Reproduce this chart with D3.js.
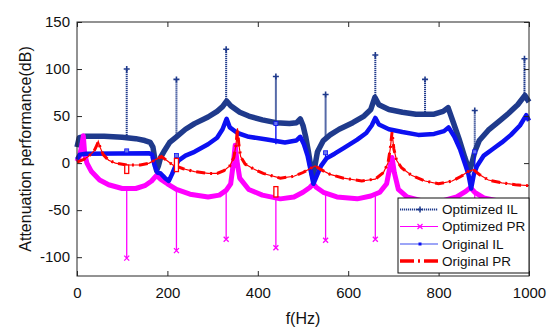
<!DOCTYPE html>
<html>
<head>
<meta charset="utf-8">
<script src="https://cdn.jsdelivr.net/npm/d3@7"></script>
<style>
  body { margin: 0; background: #fff; }
  svg { font-family: Arial, "Liberation Sans", sans-serif; }
</style>
</head>
<body>
<svg id="chart" width="550" height="335"></svg>
<script>
// axis ticks
var freqTicks = [0, 200, 400, 600, 800, 1000];
var dbTicks = [-100, -50, 0, 50, 100, 150];

// Optimized IL (base curve)
var optILFreq  = [0, 5, 20, 60, 100, 130, 150, 162, 168, 172, 176, 180, 185, 192, 205, 220, 240, 260, 290, 310, 322, 331, 340, 360, 380, 410, 440, 470, 486, 494, 500, 506, 512, 518, 522, 526, 532, 545, 560, 580, 610, 635, 650, 659, 668, 690, 720, 750, 790, 810, 821, 832, 845, 858, 868, 872, 880, 890, 910, 935, 955, 975, 991, 1000];
var optILValue = [17, 27, 28.5, 28.5, 27.5, 26, 24, 22, 17, 5, -8, -3, 6, 12, 22, 28, 36, 42, 49, 55, 60, 66, 61, 54, 50, 46, 43, 42, 43, 47, 40, 28, 12, -6, -15, -4, 12, 24, 30, 36, 43, 50, 57, 70, 62, 57, 54, 52, 52, 55, 59, 44, 26, 6, -8, -3, 12, 24, 35, 45, 53, 62, 72, 65];

// Optimized PR (base curve)
var optPRFreq  = [0, 6, 11, 14, 17, 22, 32, 50, 70, 100, 130, 150, 165, 176, 185, 200, 220, 250, 290, 315, 330, 340, 346, 350, 354, 360, 380, 410, 450, 480, 500, 515, 523, 530, 545, 575, 620, 650, 670, 685, 692, 697, 702, 711, 730, 770, 810, 840, 860, 870, 880, 900, 940, 1000];
var optPRValue = [2, 8, 20, 29, 10, 0, -9, -18, -23, -27, -27, -24, -19, -13, -17, -22, -28, -33, -36, -34, -29, -22, 0, 19, 2, -16, -28, -34, -38, -36, -31, -26, -22, -26, -31, -36, -38, -35, -31, -22, -5, 6, -10, -28, -36, -41, -40, -36, -30, -26, -31, -37, -41, -42];

// Original IL
var origILFreq  = [0, 6, 20, 160, 166, 172, 178, 185, 195, 203, 210, 217, 225, 240, 260, 290, 310, 322, 331, 338, 355, 380, 420, 460, 485, 494, 502, 510, 517, 523, 530, 540, 552, 570, 590, 620, 640, 652, 660, 668, 690, 720, 755, 790, 812, 822, 835, 848, 860, 866, 872, 878, 885, 900, 920, 940, 960, 980, 994, 1000];
var origILValue = [4, 9, 10, 10.5, 9, -3, -10, -11, -16, -19, -12, -4, 3, 8, 12, 20, 27, 36, 47, 38, 32, 28, 25, 22, 24, 28, 20, 8, -8, -22, -14, -3, 5, 10, 16, 25, 32, 40, 48, 41, 36, 33, 30, 31, 34, 38, 28, 14, -3, -12, -27, -12, -3, 8, 15, 22, 30, 40, 51, 45];

// Original PR
var origPRFreq  = [0, 15, 25, 38, 44, 47, 51, 58, 70, 85, 110, 140, 160, 175, 187, 198, 212, 235, 260, 290, 310, 325, 338, 347, 352, 355, 358, 362, 372, 390, 412, 450, 480, 500, 515, 527, 540, 560, 590, 630, 660, 678, 688, 693, 697, 701, 707, 718, 740, 770, 800, 830, 850, 865, 877, 890, 910, 940, 970, 1000];
var origPRValue = [1, 4, 7, 13, 19, 23, 17, 9, 3, 0, -2, -2, 0, 4, 7, 3, -2, -6, -9, -11, -11, -8, -3, 6, 20, 37, 20, 7, -1, -6, -11, -16, -14, -10, -6, -3, -7, -12, -16, -19, -17, -10, 0, 15, 33, 15, 3, -5, -13, -19, -22, -19, -14, -9, -7, -12, -18, -21, -23, -24];

// narrow resonance spikes every 110 Hz
var spikeFreq = [110, 220, 330, 440, 550, 660, 770, 880, 990];
var optILSpikeBase = [27.5, 28, 66, 43, 26, 70, 52, 12, 72];
var optILSpikeTop  = [100, 89, 121, 92, 73, 115, 89, 56, 111];
var optPRSpikeBase = [-27, -28, -29, -38, -31, -34, -41, -31, -42];
var optPRSpikeTop  = [-101, -93, -81, -90, -82, -81, -80, -55, -80];

var origILSpikeFreq = [110, 220, 440, 550, 880];
var origILSpikeBase = [10, 3, 20, 5, -8];
var origILSpikeTop  = [13, 8, 42, 11, 12];

var origPRSpikeFreq = [110, 220, 440];
var origPRSpikeBase = [-2, 5, -25];
var origPRSpikeTop  = [-11, -9, -36];

var legendNames = ["Optimized IL", "Optimized PR", "Original IL", "Original PR"];

var navy = "#1f3a8c", blue = "#0c10f2", magenta = "#ff00ff", red = "#ff0000";

var svg = d3.select("#chart");
var plotLeft = 77, plotRight = 529, plotTop = 22, plotBottom = 276;

var x = d3.scaleLinear().domain([0, 1000]).range([plotLeft, plotRight]);
var y = d3.scaleLinear().domain([-120, 150]).range([plotBottom, plotTop]);

function pairs(fs, vs) {
  return fs.map(function(f, i) { return [f, vs[i]]; });
}

var line = d3.line()
  .x(function(d) { return x(d[0]); })
  .y(function(d) { return y(d[1]); });

var plot = svg.append("g");

// --- Optimized IL
plot.append("path")
  .attr("d", line(pairs(optILFreq, optILValue)))
  .attr("fill", "none").attr("stroke", navy).attr("stroke-width", 5.5)
  .attr("stroke-linejoin", "round");
spikeFreq.forEach(function(f, i) {
  plot.append("line")
    .attr("x1", x(f)).attr("x2", x(f))
    .attr("y1", y(optILSpikeBase[i])).attr("y2", y(optILSpikeTop[i]))
    .attr("stroke", navy).attr("stroke-width", 2).attr("stroke-dasharray", "1.3,0.7");
  plot.append("path")
    .attr("transform", "translate(" + x(f) + "," + y(optILSpikeTop[i]) + ")")
    .attr("d", "M-3,0H3M0,-3V3").attr("stroke", navy).attr("stroke-width", 1.6);
});

// --- Optimized PR
plot.append("path")
  .attr("d", line(pairs(optPRFreq, optPRValue)))
  .attr("fill", "none").attr("stroke", magenta).attr("stroke-width", 5)
  .attr("stroke-linejoin", "round");
spikeFreq.forEach(function(f, i) {
  plot.append("line")
    .attr("x1", x(f)).attr("x2", x(f))
    .attr("y1", y(optPRSpikeBase[i])).attr("y2", y(optPRSpikeTop[i]))
    .attr("stroke", magenta).attr("stroke-width", 1.3);
  plot.append("path")
    .attr("transform", "translate(" + x(f) + "," + y(optPRSpikeTop[i]) + ")")
    .attr("d", "M-2.5,-2.5L2.5,2.5M-2.5,2.5L2.5,-2.5").attr("stroke", magenta).attr("stroke-width", 1.3);
});

// --- Original IL
plot.append("path")
  .attr("d", line(pairs(origILFreq, origILValue)))
  .attr("fill", "none").attr("stroke", blue).attr("stroke-width", 4.5)
  .attr("stroke-linejoin", "round");
origILSpikeFreq.forEach(function(f, i) {
  plot.append("line")
    .attr("x1", x(f)).attr("x2", x(f))
    .attr("y1", y(origILSpikeBase[i])).attr("y2", y(origILSpikeTop[i]))
    .attr("stroke", blue).attr("stroke-width", 1.4);
  plot.append("rect")
    .attr("x", x(f) - 2).attr("y", y(origILSpikeTop[i]) - 2)
    .attr("width", 4).attr("height", 4)
    .attr("fill", "#6a78f0").attr("stroke", blue).attr("stroke-width", 0.8);
});

// --- Original PR
var prPath = line(pairs(origPRFreq, origPRValue));
plot.append("path")
  .attr("d", prPath)
  .attr("fill", "none").attr("stroke", red).attr("stroke-width", 1.2);
plot.append("path")
  .attr("d", prPath)
  .attr("fill", "none").attr("stroke", red).attr("stroke-width", 3)
  .attr("stroke-dasharray", "9,5,2,5");
origPRSpikeFreq.forEach(function(f, i) {
  var y0 = y(origPRSpikeBase[i]), y1 = y(origPRSpikeTop[i]);
  plot.append("rect")
    .attr("x", x(f) - 2).attr("y", Math.min(y0, y1))
    .attr("width", 4).attr("height", Math.abs(y1 - y0))
    .attr("fill", "#fff").attr("stroke", red).attr("stroke-width", 1.3);
});

// --- axes (inward ticks, boxed)
var axisColor = "#262626";
var gx = svg.append("g").attr("transform", "translate(0," + plotBottom + ")")
  .call(d3.axisBottom(x).tickValues(freqTicks).tickFormat(d3.format("d"))
    .tickSizeInner(-5).tickSizeOuter(0).tickPadding(11));
var gy = svg.append("g").attr("transform", "translate(" + plotLeft + ",0)")
  .call(d3.axisLeft(y).tickValues(dbTicks).tickFormat(d3.format("d"))
    .tickSizeInner(-5).tickSizeOuter(0).tickPadding(7));
var gx2 = svg.append("g").attr("transform", "translate(0," + plotTop + ")")
  .call(d3.axisTop(x).tickValues(freqTicks).tickSizeInner(-5).tickSizeOuter(0).tickFormat(""));
var gy2 = svg.append("g").attr("transform", "translate(" + plotRight + ",0)")
  .call(d3.axisRight(y).tickValues(dbTicks).tickSizeInner(-5).tickSizeOuter(0).tickFormat(""));

[gx, gy, gx2, gy2].forEach(function(g) {
  g.select(".domain").remove();
  g.selectAll(".tick line").attr("stroke", axisColor);
  g.selectAll("text").attr("font-size", 15).attr("fill", "#111")
    .attr("font-family", "Arial, 'Liberation Sans', sans-serif");
});
gy.selectAll("text").text(function(d) { return d < 0 ? "-" + Math.abs(d) : d; });

svg.append("rect")
  .attr("x", plotLeft).attr("y", plotTop)
  .attr("width", plotRight - plotLeft).attr("height", plotBottom - plotTop)
  .attr("fill", "none").attr("stroke", axisColor).attr("stroke-width", 1);

// axis titles
svg.append("text")
  .attr("x", (plotLeft + plotRight) / 2).attr("y", 324)
  .attr("text-anchor", "middle").attr("font-size", 16).attr("fill", "#111")
  .text("f(Hz)");
svg.append("text")
  .attr("transform", "translate(31," + ((plotTop + plotBottom) / 2) + ") rotate(-90)")
  .attr("text-anchor", "middle").attr("font-size", 16).attr("fill", "#111")
  .text("Attenuation performance(dB)");

// --- legend
var lg = svg.append("g");
lg.append("rect")
  .attr("x", 398).attr("y", 198).attr("width", 131).attr("height", 75)
  .attr("fill", "#fff").attr("stroke", "#111").attr("stroke-width", 1);

var rowY = [209.5, 226.5, 244, 261];
var lx0 = 400, lx1 = 438, lxm = 420;

// Optimized IL
lg.append("line").attr("x1", lx0).attr("x2", lx1).attr("y1", rowY[0]).attr("y2", rowY[0])
  .attr("stroke", navy).attr("stroke-width", 1.8).attr("stroke-dasharray", "1.2,0.8");
lg.append("path").attr("transform", "translate(" + lxm + "," + rowY[0] + ")")
  .attr("d", "M-3,0H3M0,-3V3").attr("stroke", navy).attr("stroke-width", 1.5);
// Optimized PR
lg.append("line").attr("x1", lx0).attr("x2", lx1).attr("y1", rowY[1]).attr("y2", rowY[1])
  .attr("stroke", magenta).attr("stroke-width", 1.2);
lg.append("path").attr("transform", "translate(" + lxm + "," + rowY[1] + ")")
  .attr("d", "M-2.5,-2.5L2.5,2.5M-2.5,2.5L2.5,-2.5").attr("stroke", magenta).attr("stroke-width", 1.2);
// Original IL
lg.append("line").attr("x1", lx0).attr("x2", lx1).attr("y1", rowY[2]).attr("y2", rowY[2])
  .attr("stroke", "#3a4cf0").attr("stroke-width", 1.2);
lg.append("rect").attr("x", lxm - 1.5).attr("y", rowY[2] - 1.5).attr("width", 3).attr("height", 3)
  .attr("fill", blue);
// Original PR
lg.append("line").attr("x1", lx0).attr("x2", lx1).attr("y1", rowY[3]).attr("y2", rowY[3])
  .attr("stroke", red).attr("stroke-width", 3.5).attr("stroke-dasharray", "14,4,2,4");

lg.selectAll("text.lbl").data(legendNames).enter().append("text")
  .attr("class", "lbl")
  .attr("x", 442).attr("y", function(d, i) { return rowY[i]; })
  .attr("dy", "0.36em").attr("font-size", 13.5).attr("fill", "#111")
  .text(function(d) { return d; });
</script>
</body>
</html>
